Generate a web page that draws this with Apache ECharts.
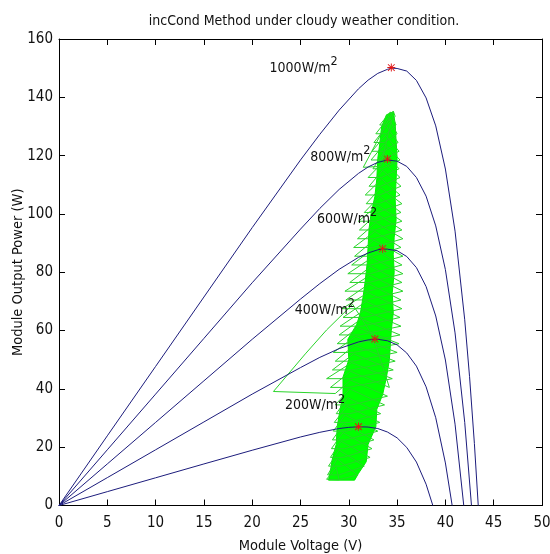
<!DOCTYPE html>
<html><head><meta charset="utf-8">
<script src="https://cdn.jsdelivr.net/npm/echarts@6/dist/echarts.min.js"></script>
<style>html,body{margin:0;padding:0;background:#fff}#c{width:550px;height:554px}</style>
</head><body><div id="c"></div>
<script>
const FONT = "'DejaVu Sans Condensed','DejaVu Sans',sans-serif";
const titleText = 'incCond Method under cloudy weather condition.';
const xName = 'Module Voltage (V)';
const yName = 'Module Output Power (W)';
const xMin = 0, xMax = 50, xStep = 5;
const yMin = 0, yMax = 160, yStep = 20;

// P-V curves (V in volts, P in watts)
const v1000 = [0,5,10,15,20,25,27,29,31,32,33,34,34.5,35,36,37,38,39,40,41,42,42.5,43,43.4];
const p1000 = [0,23.9,47.7,71.5,95.3,118.5,127.3,135.6,142.9,145.9,148.2,149.6,150,149.9,149,145.8,139.8,130.2,115.4,94.1,63.7,44.2,21.3,0];
const v800 = [0,5,10,15,20,25,27,29,31,32,33,34,35,36,37,38,39,40,41,42,42.7];
const p800 = [0,19.1,38.2,57.3,76.4,94.8,101.9,108.4,113.9,116.1,117.7,118.5,118.1,116.3,112.5,106.1,95.9,80.9,59.2,28.5,0];
const v600 = [0,5,10,15,20,25,27,29,31,32,33,33.5,34,35,36,37,38,39,40,41,41.9];
const p600 = [0,14.25,28.5,42.75,57,70.8,76.1,81.0,85.1,86.6,87.7,88,87.9,87.4,85.4,81.6,75.1,65.0,49.9,27.9,0];
const v400 = [0,5,10,15,20,25,27,29,31,32,33,34,35,36,37,38,39,40,40.7];
const p400 = [0,9.55,19.1,28.65,38.2,47.3,50.8,53.8,56.1,56.8,57.0,56.5,55.1,52.3,47.8,40.7,30.1,14.6,0];
const v200 = [0,5,10,15,20,25,27,29,30,31,32,33,34,35,36,37,38,38.7];
const p200 = [0,4.75,9.5,14.25,18.95,23.5,25.1,26.4,26.8,27.0,26.9,26.4,25.2,23.2,19.9,14.9,7.3,0];

// maximum power points (red stars)
const mppV = [34.4, 34.0, 33.5, 32.7, 31.0];
const mppP = [150.2, 118.8, 88.1, 57.1, 27.0];

// irradiance labels
const irradiance = [1000, 800, 600, 400, 200];
const labelV = [21.8, 26.0, 26.7, 24.4, 23.4];
const labelP = [150.1, 119.4, 98.3, 66.8, 34.2];

// IncCond tracking trajectory: dense core outline
const coreV = [27.9,28.1,28.3,28.7,28.8,29.1,29.4,29.4,30.0,29.9,30.8,31.2,31.5,31.7,31.9,32.0,32.1,32.3,32.7,32.9,33.0,33.2,33.4,33.9,
               34.6,34.8,34.9,35.0,34.9,34.8,34.9,34.7,34.6,34.7,34.5,34.6,34.4,34.3,34.2,33.9,33.5,32.9,32.8,32.0,31.8,31.0,30.6];
const coreP = [8.7,12,16,21,27,33,38,44,50,57,62,66,72,77,83,89,95,100,106,112,119,124,130,134,
               135,131,125,119,112,105,98,92,86,80,73,66,60,55,50,44,38,33,27,21,15,11,8.7];

// IncCond tracking trajectory: oscillation trace [V, P]
const tracePts = [
 [29.0,8.7],
 [28.7,13],[27.7,9],[28.9,8.8],[30.9,10.5],
 [28.8,16],[27.8,10.5],[29.0,10.5],[31.6,13.5],
 [29.0,19],[27.9,13.5],[29.2,13.5],[32.2,16.5],
 [29.2,22],[28.1,16.5],[29.4,16.5],[32.4,19.5],
 [29.4,25],[28.2,19.5],[29.6,19.5],[32.6,22.5],
 [29.5,28],[28.3,22.5],[29.7,22.5],[33.0,25.5],
 [29.6,31],[28.4,25.5],[29.8,25.5],[33.2,28.5],
 [29.8,34],[28.5,28.5],[30.0,28.5],[33.3,31.5],
 [29.9,37],[28.7,31.5],[30.1,31.5],[33.7,34.5],
 [30.1,40],[28.6,34.5],[30.3,34.5],[34.0,37.5],
 [30.2,43],[28.6,38.4],[22.2,39.1],[25.5,52.0],[27.7,60.2],[30.4,69],[32.5,58],[34.2,40.5],
 [30.2,46],[28.1,40.5],[30.0,40.5],[34.5,43.5],
 [30.3,49],[27.7,43.5],[30.1,43.5],[34.6,46.5],
 [30.5,52],[28.3,46.5],[30.3,46.5],[34.8,49.5],
 [30.6,55],[28.6,49.5],[30.4,49.5],[35.0,52.5],
 [30.7,58],[28.4,52.5],[30.5,52.5],[35.2,55.5],
 [30.9,61],[28.8,55.5],[30.7,55.5],[35.3,58.5],
 [31.3,64],[29.0,58.5],[31.1,58.5],[35.4,61.5],
 [31.6,67],[29.1,61.5],[31.4,61.5],[35.3,64.5],
 [31.8,70],[29.4,64.5],[31.6,64.5],[35.5,67.5],
 [32.0,73],[29.3,67.5],[31.8,67.5],[35.4,70.5],
 [32.1,76],[29.7,70.5],[31.9,70.5],[35.6,73.5],
 [32.2,79],[29.6,73.5],[32.0,73.5],[35.5,76.5],
 [32.3,82],[30.1,76.5],[32.1,76.5],[35.6,79.5],
 [32.4,85],[29.9,79.5],[32.2,79.5],[35.5,82.5],
 [32.5,88],[30.3,82.5],[32.3,82.5],[35.6,85.5],
 [32.6,91],[30.6,85.5],[32.4,85.5],[35.4,88.5],
 [32.7,94],[30.5,88.5],[32.5,88.5],[35.6,91.5],
 [32.8,97],[30.9,91.5],[32.6,91.5],[35.5,94.5],
 [32.9,100],[31.1,94.5],[32.7,94.5],[35.5,97.5],
 [33.0,103],[31.0,97.5],[32.8,97.5],[35.4,100.5],
 [33.2,106],[31.6,100.5],[33.0,100.5],[35.5,103.5],
 [33.3,109],[31.8,103.5],[33.1,103.5],[35.3,106.5],
 [33.4,112],[31.7,106.5],[33.2,106.5],[35.4,109.5],
 [33.5,115],[32.1,109.5],[33.3,109.5],[35.3,112.5],
 [33.6,118],[32.0,112.5],[33.4,112.5],[35.2,115.5],
 [33.6,121],[32.5,115.5],[33.4,115.5],[35.3,118.5],
 [33.7,124],[32.3,118.5],[33.5,118.5],[35.2,121.5],
 [33.8,127],[32.4,121.5],[33.6,121.5],[35.1,124.5],
 [33.9,130],[32.6,124.5],[33.7,124.5],[35.0,127.5],
 [34.1,133],[32.8,127.5],[33.9,127.5],[34.9,130.5],
 [34.3,135],[33.2,130.5],[34.0,130.5],[34.8,133.5],
 [34.6,135.3],[31.5,116],[33.3,116.3],[34.4,132],[34.0,134]
];

const zip = (a, b) => a.map((v, i) => [v, b[i]]);
const CURVE = '#1c1c7c';
const TXT = '#111';
const STAR = 'path://M4.4,0L5.6,0L5.6,10L4.4,10Z M0,4.4L10,4.4L10,5.6L0,5.6Z M1.2,0.4L9.6,8.8L8.8,9.6L0.4,1.2Z M8.8,0.4L9.6,1.2L1.2,9.6L0.4,8.8Z';

function curve(v, p) {
  return { type: 'line', data: zip(v, p), showSymbol: false, symbol: 'none', z: 4,
    lineStyle: { color: CURVE, width: 1 }, silent: true };
}
const axisCommon = {
  axisLine: { show: true, onZero: false, lineStyle: { color: '#000', width: 1 } },
  axisTick: { show: true, inside: true, length: 6, lineStyle: { color: '#000' } },
  splitLine: { show: false }
};

const chart = echarts.init(document.getElementById('c'), null, { renderer: 'canvas' });
chart.setOption({
  animation: false,
  backgroundColor: '#fff',
  title: { text: titleText, left: 299, top: 9, textAlign: 'center',
    textStyle: { fontFamily: FONT, fontSize: 14, fontWeight: 'normal', color: TXT } },
  grid: { left: 59, right: 8, top: 39, bottom: 48.5, containLabel: false, outerBoundsMode: 'none' },
  xAxis: [
    Object.assign({ type: 'value', min: xMin, max: xMax, interval: xStep, position: 'bottom',
      name: xName, nameLocation: 'middle', nameGap: 33, nameMoveOverlap: false,
      nameTextStyle: { fontFamily: FONT, fontSize: 14.5, color: TXT },
      axisLabel: { fontFamily: FONT, fontSize: 15, color: TXT, margin: 10 } }, axisCommon),
    Object.assign({ type: 'value', min: xMin, max: xMax, interval: xStep, position: 'top',
      axisLabel: { show: false } }, axisCommon)
  ],
  yAxis: [
    Object.assign({ type: 'value', min: yMin, max: yMax, interval: yStep, position: 'left',
      name: yName, nameLocation: 'middle', nameGap: 33, nameRotate: 90, nameMoveOverlap: false,
      nameTextStyle: { fontFamily: FONT, fontSize: 14.5, color: TXT },
      axisLabel: { fontFamily: FONT, fontSize: 15, color: TXT, margin: 6 } }, axisCommon),
    Object.assign({ type: 'value', min: yMin, max: yMax, interval: yStep, position: 'right',
      axisLabel: { show: false } }, axisCommon)
  ],
  series: [
    { type: 'custom', z: 2, silent: true, data: [[coreV[0], coreP[0]]], encode: { x: 0, y: 1 },
      renderItem: function (params, api) {
        const pts = coreV.map((v, i) => api.coord([v, coreP[i]]));
        return { type: 'polygon', shape: { points: pts }, style: { fill: '#00ff00', stroke: '#00ee00', lineWidth: 1 } };
      } },
    { type: 'line', data: tracePts, showSymbol: false, symbol: 'none', z: 3, silent: true,
      lineStyle: { color: '#2ad42a', width: 1 } },
    curve(v1000, p1000), curve(v800, p800), curve(v600, p600), curve(v400, p400), curve(v200, p200),
    { type: 'scatter', data: zip(mppV, mppP), symbol: STAR, symbolSize: 8, z: 6, silent: true,
      itemStyle: { color: '#e01818', opacity: 1 } },
    { type: 'scatter', data: zip(labelV, labelP), symbolSize: 0, z: 7, silent: true,
      itemStyle: { color: 'transparent', opacity: 1 },
      label: { show: true, position: [0, 0], align: 'left', verticalAlign: 'middle',
        formatter: (p) => '{a|' + irradiance[p.dataIndex] + 'W/m}{s|2}',
        rich: {
          a: { fontFamily: FONT, fontSize: 14, color: TXT, lineHeight: 26 },
          s: { fontFamily: FONT, fontSize: 12.5, color: TXT, lineHeight: 13, verticalAlign: 'top' }
        } } }
  ]
});
</script></body></html>
